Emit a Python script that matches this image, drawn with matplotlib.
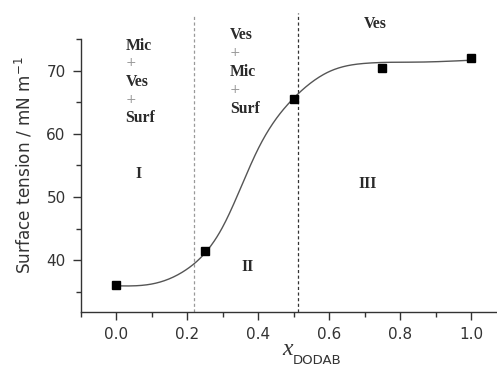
import numpy as np
import matplotlib
matplotlib.use("Agg")
import matplotlib.pyplot as plt
from matplotlib.ticker import MultipleLocator

# Measured surface tension vs. DODAB mole fraction
x_dodab = [0.0, 0.25, 0.5, 0.75, 1.0]
tension = [36.0, 41.5, 65.5, 70.5, 72.0]

# Sigmoidal guide curve (anchor points along the fitted trend)
curve_x = [0.0, 0.1, 0.2, 0.3, 0.4, 0.5, 0.6, 0.7, 0.85, 1.0]
curve_y = [35.9, 36.2, 38.6, 45.3, 57.7, 65.7, 69.9, 71.2, 71.4, 71.7]

# Phase boundaries
boundaries = [0.218, 0.513]


def natural_spline(xk, yk, xs):
    xk = np.asarray(xk, float)
    yk = np.asarray(yk, float)
    n = len(xk)
    h = np.diff(xk)
    A = np.zeros((n, n))
    b = np.zeros(n)
    A[0, 0] = A[-1, -1] = 1.0
    for i in range(1, n - 1):
        A[i, i - 1] = h[i - 1]
        A[i, i] = 2 * (h[i - 1] + h[i])
        A[i, i + 1] = h[i]
        b[i] = 6 * ((yk[i + 1] - yk[i]) / h[i] - (yk[i] - yk[i - 1]) / h[i - 1])
    M = np.linalg.solve(A, b)
    idx = np.clip(np.searchsorted(xk, xs) - 1, 0, n - 2)
    x0, x1 = xk[idx], xk[idx + 1]
    hh = h[idx]
    a = (x1 - xs) / hh
    c = (xs - x0) / hh
    return (a * yk[idx] + c * yk[idx + 1]
            + ((a**3 - a) * M[idx] + (c**3 - c) * M[idx + 1]) * hh**2 / 6)


fig = plt.figure(figsize=(4.97, 3.65), dpi=100)
ax = fig.add_axes([0.163, 0.146, 0.837, 0.746])

xs = np.linspace(curve_x[0], curve_x[-1], 400)
ax.plot(xs, natural_spline(curve_x, curve_y, xs), color="#555555", lw=1.0,
        zorder=2)
ax.plot(x_dodab, tension, "s", color="black", ms=6, zorder=3)

ax.plot([boundaries[0]] * 2, [31.8, 78.8], color="#999999", lw=0.9,
        ls=(0, (2.5, 2)), clip_on=False, zorder=1)
ax.plot([boundaries[1]] * 2, [31.8, 79.2], color="#333333", lw=0.9,
        ls=(0, (2.5, 2)), clip_on=False, zorder=1)

ax.set_xlim(-0.1, 1.073)
ax.set_ylim(31.8, 75.0)

for s in ("top", "right"):
    ax.spines[s].set_visible(False)
for s in ("left", "bottom"):
    ax.spines[s].set_color("#333333")
    ax.spines[s].set_linewidth(1.0)

ax.xaxis.set_minor_locator(MultipleLocator(0.1))
ax.yaxis.set_minor_locator(MultipleLocator(5))
ax.set_xticks([0.0, 0.2, 0.4, 0.6, 0.8, 1.0])
ax.set_xticklabels(["0.0", "0.2", "0.4", "0.6", "0.8", "1.0"])
ax.set_yticks([40, 50, 60, 70])
ax.tick_params(which="major", direction="out", length=6, width=1.0,
               color="#333333", labelsize=11, labelcolor="#333333", pad=5)
ax.tick_params(which="minor", direction="out", length=3.5, width=1.0,
               color="#333333")

ax.set_ylabel("Surface tension / mN m$^{-1}$", fontsize=12.2,
              color="#333333")
ax.yaxis.set_label_coords(-0.112, 0.54)

fig.text(0.569, 0.028, "x", fontsize=17, family="Liberation Serif",
         style="italic", color="#333333", ha="left", va="baseline")
fig.text(0.590, 0.004, "DODAB", fontsize=9.5, color="#333333",
         ha="left", va="baseline")

serif = dict(family="Liberation Serif", fontweight="bold", fontsize=11.3,
             color="#2a2a2a")
plus = dict(family="DejaVu Sans", fontsize=9, color="#999999")

# Region I label stack
ax.text(0.025, 74.0, "Mic", ha="left", va="center", **serif)
ax.text(0.04, 71.3, "+", ha="center", va="center", **plus)
ax.text(0.025, 68.3, "Ves", ha="left", va="center", **serif)
ax.text(0.04, 65.5, "+", ha="center", va="center", **plus)
ax.text(0.025, 62.5, "Surf", ha="left", va="center", **serif)
ax.text(0.063, 53.7, "I", ha="center", va="center", **serif)

# Region II label stack
ax.text(0.32, 75.7, "Ves", ha="left", va="center", clip_on=False, **serif)
ax.text(0.335, 72.9, "+", ha="center", va="center", **plus)
ax.text(0.32, 69.9, "Mic", ha="left", va="center", **serif)
ax.text(0.335, 67.0, "+", ha="center", va="center", **plus)
ax.text(0.32, 64.0, "Surf", ha="left", va="center", **serif)
ax.text(0.369, 38.9, "II", ha="center", va="center", **serif)

# Region III labels
ax.text(0.729, 77.4, "Ves", ha="center", va="center", **serif)
ax.text(0.708, 52.0, "III", ha="center", va="center", **serif)

fig.savefig("out.png", dpi=100)
